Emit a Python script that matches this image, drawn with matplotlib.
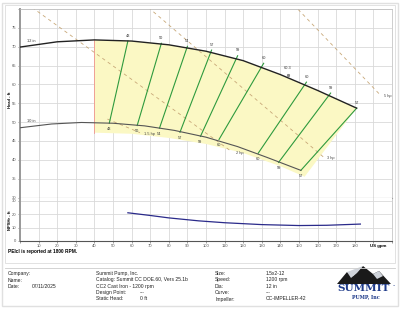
import numpy as np
import matplotlib.pyplot as plt
from matplotlib.patches import Polygon, Rectangle

plt.rcParams['font.family'] = 'Liberation Sans'

W, H = 400, 309
GRID = '#d9d9d9'
GREEN = '#2e9a3e'
YELLOW = '#fbf8c4'
DASH = '#c8a878'
NAVY = '#2a2a8a'

# ── data ────────────────────────────────────────────────────────────────────
q12 = [0, 20, 40, 60, 80, 100, 120, 140, 160, 181]
h12 = [69.9, 71.3, 71.8, 71.5, 70.5, 68.8, 66.3, 62.6, 58.4, 53.7]
q10 = [0, 17, 33, 50, 67, 83, 100, 117, 133, 151]
h10 = [48.5, 49.5, 49.9, 49.7, 49.0, 47.8, 46.0, 43.5, 40.6, 37.2]

eff_labels = ['43', '50', '54', '57', '59', '60', '60', '59', '57']
eff_q12 = [58, 76, 90, 103, 117, 131, 154, 167, 181]
eff_h12 = [71.5, 70.9, 70.1, 69.1, 67.6, 65.6, 60.6, 57.7, 53.7]
eff_q10 = [48, 63, 75, 86, 97, 107, 128, 139, 151]
eff_h10 = [49.7, 49.1, 48.4, 47.3, 46.2, 45.4, 41.7, 39.3, 37.2]
bep_q, bep_h, bep_lbl = 144, 62.5, '60.3'

# preferred region lower edge
reg_q = [40, 60, 80, 100, 120, 140, 153]
reg_h = [47.2, 46.9, 45.8, 44.2, 41.8, 38.3, 35.5]

hp_labels = ['1.5 hp', '2 hp', '3 hp', '5 hp']
hp_q0 = [47, 6.5, 69, 149.5]
hp_h0 = [50.8, 80.4, 80.4, 79.9]
hp_q1 = [64.5, 114, 163, 193.5]
hp_h1 = [47.2, 42.1, 40.8, 57.3]

npsh_q = [58, 70, 80, 96, 110, 130, 150, 165, 183]
npsh_h = [21.0, 19.0, 17.2, 15.0, 13.6, 12.2, 11.5, 11.7, 12.6]

footer_left = [('Company:', ''), ('Name:', ''), ('Date:', '07/11/2025')]
footer_mid = ['Summit Pump, Inc.', 'Catalog: Summit CC DOE.60, Vers 25.1b',
              'CC2 Cast Iron - 1200 rpm']
footer_mid2 = [('Design Point:', '---'), ('Static Head:', '0 ft')]
footer_right = [('Size:', '1.5x2-12'), ('Speed:', '1200 rpm'), ('Dia:', '12 in'),
                ('Curve:', '---'), ('Impeller:', 'CC-IMPELLER-42')]


def fy(y):
    return 1 - y / H


def fx(x):
    return x / W


fig = plt.figure(figsize=(W / 100, H / 100), dpi=100, facecolor='white')

# outer frames
fig.patches.append(Rectangle((fx(2), fy(306)), fx(396), 303 / H, transform=fig.transFigure,
                             fill=False, edgecolor='#e0e0e0', lw=1))
fig.patches.append(Rectangle((fx(5), fy(263)), fx(390), 258 / H, transform=fig.transFigure,
                             fill=False, edgecolor='#dddddd', lw=0.6))

ax = fig.add_axes([fx(20), fy(197.5), fx(372), 188.5 / H])
ax2 = fig.add_axes([fx(20), fy(241), fx(372), 43 / H])

for a in (ax, ax2):
    a.set_xlim(0, 200)
    a.set_xticks(np.arange(0, 201, 10))
    a.grid(True, color=GRID, lw=0.6)
    a.set_axisbelow(True)
    a.tick_params(length=1.5, width=0.4, labelsize=3, colors='#555555', pad=1)
    for s in a.spines.values():
        s.set_color('#bbbbbb')
        s.set_linewidth(0.5)
    a.spines['left'].set_color('#999999')
    a.spines['left'].set_linewidth(1.4)

ax.set_ylim(30, 80)
ax.set_yticks(np.arange(30, 81, 5))
ax.set_yticklabels([str(v) if v < 80 else '' for v in range(30, 81, 5)])
ax.tick_params(axis='x', labelbottom=False, length=0)
ax.spines['bottom'].set_color('#777777')
ax.spines['bottom'].set_linewidth(0.8)

ax2.set_ylim(0, 32)
ax2.set_yticks([0, 10, 20, 30])
xl = [str(v) if 0 < v <= 180 else '' for v in range(0, 201, 10)]
ax2.set_xticklabels(xl)
ax2.spines['top'].set_visible(False)
ax2.spines['bottom'].set_color('#555555')
ax2.spines['bottom'].set_linewidth(0.8)

# preferred operating region
top_q = [40] + [q for q in q12 if q > 40]
top_h = [np.interp(40, q12, h12)] + [h for q, h in zip(q12, h12) if q > 40]
poly = list(zip(top_q, top_h)) + list(zip(reg_q[::-1], reg_h[::-1]))
ax.add_patch(Polygon(poly, closed=True, facecolor=YELLOW, edgecolor='none', zorder=1))
ax.plot([40, 40], [reg_h[0], top_h[0]], color='#f08080', lw=0.5, zorder=2)

# power lines
for lbl, x0, y0, x1, y1 in zip(hp_labels, hp_q0, hp_h0, hp_q1, hp_h1):
    ax.plot([x0, x1], [y0, y1], color=DASH, lw=0.6, ls=(0, (4, 4)), zorder=2)
    ax.text(x1 + 2, y1 - 0.4, lbl, fontsize=2.8, color='#444444', va='center')

# impeller curves
ax.plot(q12, h12, color='#222222', lw=1.0, zorder=4)
ax.plot(q10, h10, color='#555555', lw=0.8, zorder=4)
ax.text(4, 71.3, '12 in', fontsize=2.8, color='#333333')
ax.text(4, 49.9, '10 in', fontsize=2.8, color='#333333')

# iso-efficiency lines
for lbl, qa, ha, qb, hb in zip(eff_labels, eff_q12, eff_h12, eff_q10, eff_h10):
    ax.plot([qa, qb], [ha, hb], color=GREEN, lw=0.8, zorder=3)
    ax.text(qa, ha + 0.9, lbl, fontsize=2.8, ha='center', va='bottom', color='#333333', zorder=5)
    ax.text(qb, hb - 0.9, lbl, fontsize=2.8, ha='center', va='top', color='#333333', zorder=5)
ax.plot([bep_q], [bep_h], marker='s', ms=1.2, color='#888888', zorder=5)
ax.text(bep_q, bep_h + 1.2, bep_lbl, fontsize=2.8, ha='center', va='bottom', color='#333333')

# NPSHr
ax2.plot(npsh_q, npsh_h, color=NAVY, lw=0.9)

fig.text(fx(10), fy(100), 'Head - ft', rotation=90, fontsize=3, fontweight='bold',
         ha='center', va='center')
fig.text(fx(10), fy(220), 'NPSHr - ft', rotation=90, fontsize=3, fontweight='bold',
         ha='center', va='center')
fig.text(fx(370), fy(245.5), 'US gpm', fontsize=3.2, fontweight='bold', va='center')
fig.text(fx(8), fy(251.5), 'PEIcl is reported at 1800 RPM.', fontsize=3.4, fontweight='bold',
         va='center')

# footer
fig.lines.append(plt.Line2D([fx(5), fx(395)], [fy(268), fy(268)], transform=fig.transFigure,
                            color='#cccccc', lw=0.6))
fs = 3.6
rows = [273.5, 280, 286.3, 292.6, 299]
for (k, v), y in zip(footer_left, rows):
    fig.text(fx(8), fy(y), k, fontsize=fs, va='center', color='#222222')
    fig.text(fx(32), fy(y), v, fontsize=fs, va='center', color='#222222')
for t, y in zip(footer_mid, rows):
    fig.text(fx(96), fy(y), t, fontsize=fs, va='center', color='#222222')
for (k, v), y in zip(footer_mid2, rows[3:]):
    fig.text(fx(96), fy(y), k, fontsize=fs, va='center', color='#222222')
    fig.text(fx(140), fy(y), v, fontsize=fs, va='center', color='#222222')
for (k, v), y in zip(footer_right, rows):
    fig.text(fx(215), fy(y), k, fontsize=fs, va='center', color='#222222')
    fig.text(fx(266), fy(y), v, fontsize=fs, va='center', color='#222222')

# logo
lax = fig.add_axes([fx(333), fy(302), fx(64), 38 / H])
lax.set_xlim(0, 64); lax.set_ylim(38, 0); lax.axis('off')
lax.add_patch(Polygon([(4, 20), (14, 8), (20, 12), (30, 2), (40, 10), (46, 7), (58, 20)],
                      closed=True, facecolor='#1a1a1a', edgecolor='none'))
lax.add_patch(Polygon([(14, 8), (18, 14), (24, 9), (30, 2)], closed=True,
                      facecolor='#cfd3da', edgecolor='none'))
lax.add_patch(Polygon([(40, 10), (44, 15), (50, 12), (46, 7)], closed=True,
                      facecolor='#cfd3da', edgecolor='none'))
lax.text(31, 24.5, 'SUMMIT', fontsize=7.5, fontweight='bold', family='DejaVu Serif',
         color='#1f3b8a', ha='center', va='center')
lax.text(61, 22, 'TM', fontsize=1.6, color='#1f3b8a', ha='center', va='center')
lax.text(33, 32.5, 'PUMP, Inc', fontsize=3.4, fontweight='bold', family='DejaVu Serif',
         color='#1f3b8a', ha='center', va='center')

fig.savefig('out.png', dpi=100, facecolor='white')
